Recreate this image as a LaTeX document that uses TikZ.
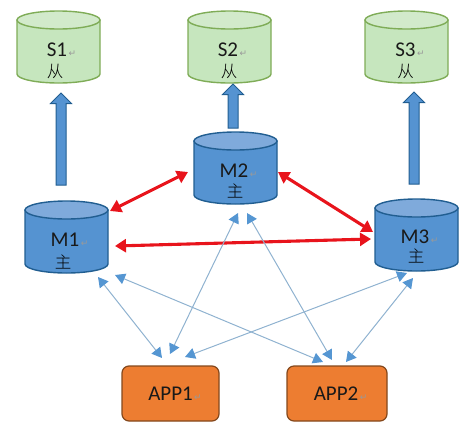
\documentclass[tikz,border=0pt]{standalone}
\usepackage{fontspec}
\setmainfont{Carlito}
\newfontfamily\cjkfont{Noto Sans CJK SC}[UprightFont=* Light]
\newfontfamily\markfont{DejaVu Sans}
\usetikzlibrary{shapes.arrows,arrows.meta}
\definecolor{slavefill}{HTML}{C6E6BE}
\definecolor{slavetop}{HTML}{D2EACB}
\definecolor{slaveline}{HTML}{7FAC57}
\definecolor{masterfill}{HTML}{5593D1}
\definecolor{mastertop}{HTML}{7FAADB}
\definecolor{masterline}{HTML}{215E91}
\definecolor{appfill}{HTML}{ED7D31}
\definecolor{appline}{HTML}{84481C}
\definecolor{thinline}{HTML}{8FB2D0}
\definecolor{thinhead}{HTML}{5596D2}
\definecolor{redlink}{HTML}{E8141C}
\newcommand{\retmark}{\rlap{\markfont\fontsize{9}{9}\selectfont\color{black!40}\,↵}}
% body and top of a cylinder round a named box node
\newcommand{\dbdraw}[3]{%
  \draw[line width=1.4pt,draw=#3,fill=#2,line join=round]
    ([shift={(-41.5,-27)}]#1.center) -- ([shift={(-41.5,27)}]#1.center)
    arc[start angle=180,end angle=0,x radius=41.5,y radius=9]
    -- ([shift={(41.5,-27)}]#1.center) -- cycle;
}
\newcommand{\dbtop}[3]{%
  \draw[line width=1.4pt,draw=#3,fill=#2]
    ([shift={(0,-27)}]#1.center) ellipse[x radius=41.5,y radius=9];
}
\tikzset{
  dbbox/.style={rectangle,minimum width=83pt,minimum height=72pt,inner sep=0pt,outer sep=0pt},
  app/.style={draw=appline,fill=appfill,line width=1.2pt,rounded corners=7pt,
    minimum height=55pt,inner sep=0pt,outer sep=0pt},
  blockarrow/.style={single arrow,draw=masterline,fill=masterfill,line width=1pt,rotate=90,
    anchor=tip,minimum width=21pt,single arrow head extend=5.5pt,
    inner xsep=0pt,inner ysep=4.5pt,outer sep=0pt,text height=0pt,text depth=0pt,text width=0pt},
  label/.style={font=\fontsize{21}{21}\selectfont,text=black!90,inner sep=0pt},
  han/.style={font=\cjkfont\fontsize{16.5}{16.5}\selectfont,text=black,inner sep=0pt},
  redboth/.style={draw=redlink,line width=3.1pt,{Triangle[length=11pt,width=13pt]}-{Triangle[length=11pt,width=13pt]}},
  thinboth/.style={draw=thinline,line width=1pt,
    {Triangle[length=10pt,width=11pt,color=thinhead]}-{Triangle[length=10pt,width=11pt,color=thinhead]}}
}
\begin{document}
\begin{tikzpicture}[x=1pt,y=-1pt]
\useasboundingbox (0,0) rectangle (471,429);
% cylinders
\node[dbbox] (s1) at (58.5,47) {};
\node[dbbox] (s2) at (229.5,47) {};
\node[dbbox] (s3) at (406.5,47) {};
\node[dbbox] (m2) at (235.5,168) {};
\node[dbbox] (m1) at (66.5,237) {};
\node[dbbox] (m3) at (416.5,235) {};
\dbdraw{s1}{slavefill}{slaveline}\dbtop{s1}{slavetop}{slaveline}
\dbdraw{s2}{slavefill}{slaveline}\dbtop{s2}{slavetop}{slaveline}
\dbdraw{s3}{slavefill}{slaveline}\dbtop{s3}{slavetop}{slaveline}
\dbdraw{m2}{masterfill}{masterline}\dbtop{m2}{mastertop}{masterline}
\dbdraw{m1}{masterfill}{masterline}\dbtop{m1}{mastertop}{masterline}
\dbdraw{m3}{masterfill}{masterline}\dbtop{m3}{mastertop}{masterline}
% apps
\node[app,minimum width=97pt]  (a1) at (170.5,393.5) {};
\node[app,minimum width=100pt] (a2) at (337,393.5) {};
% texts
\node[label] (ts1) at (57,50) {S1\retmark};
\node[han]   (hs1) at (55,71) {从};
\node[label] (ts2) at (228,50) {S2\retmark};
\node[han]   (hs2) at (229,71) {从};
\node[label] (ts3) at (405.5,50) {S3\retmark};
\node[han]   (hs3) at (405.5,71) {从};
\node[label] (tm2) at (234,171) {M2\retmark};
\node[han]   (hm2) at (235,191) {主};
\node[label] (tm1) at (65,240) {M1\retmark};
\node[han]   (hm1) at (63,262) {主};
\node[label] (tm3) at (415,237) {M3\retmark};
\node[han]   (hm3) at (416,256) {主};
\node[label] (ta1) at (170.5,394) {APP1\retmark};
\node[label] (ta2) at (336,394) {APP2\retmark};
% block arrows
\node[blockarrow,minimum height=92pt] (b1) at (61,93) {};
\node[blockarrow,minimum height=44pt] (b2) at (233,84) {};
\node[blockarrow,minimum height=92pt] (b3) at (414,92) {};
% red links
\draw[redboth] ([shift={(43.5,-26)}]m1.center) -- ([shift={(-47.5,4)}]m2.center);
\draw[redboth] ([shift={(42.5,4)}]m2.center) -- ([shift={(-43.5,-3)}]m3.center);
\draw[redboth] ([shift={(48.5,9)}]m1.center) -- ([shift={(-45.5,4)}]m3.center);
% thin links
\draw[thinboth] ([shift={(31.5,40)}]m1.center) -- ([shift={(-8.5,-35.5)}]a1.center);
\draw[thinboth] ([shift={(48.5,38)}]m1.center) -- ([shift={(-14,-31.5)}]a2.center);
\draw[thinboth] ([shift={(2.5,45)}]m2.center) -- ([shift={(-0.5,-39.5)}]a1.center);
\draw[thinboth] ([shift={(11.5,45)}]m2.center) -- ([shift={(-5,-33.5)}]a2.center);
\draw[thinboth] ([shift={(-9.5,38)}]m3.center) -- ([shift={(14.5,-36.5)}]a1.center);
\draw[thinboth] ([shift={(-3.5,43)}]m3.center) -- ([shift={(9,-31.5)}]a2.center);
\end{tikzpicture}
\end{document}
